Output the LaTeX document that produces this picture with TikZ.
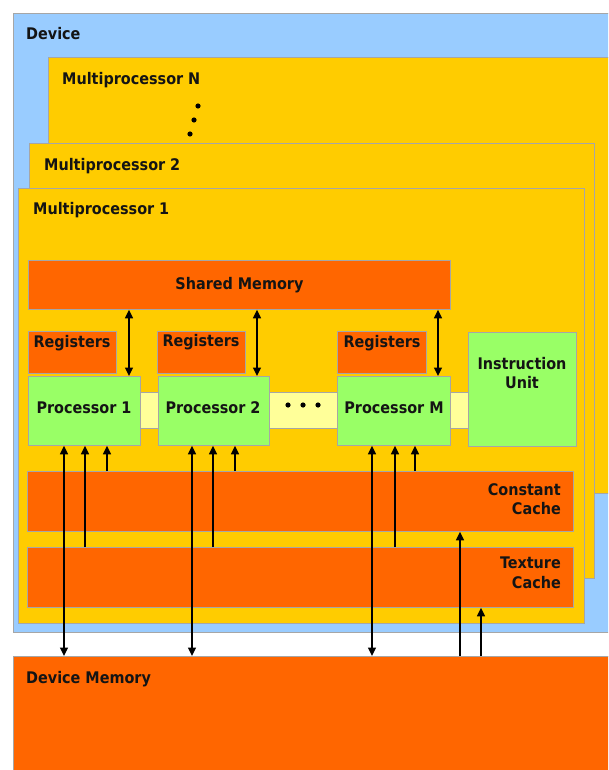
\documentclass[tikz,border=0pt]{standalone}
\usepackage{fontspec}
\setmainfont{DejaVu Sans Condensed}
\usetikzlibrary{arrows.meta}
\definecolor{devblue}{HTML}{99CCFF}
\definecolor{mpyel}{HTML}{FFCC00}
\definecolor{memor}{HTML}{FF6600}
\definecolor{procgr}{HTML}{99FF66}
\definecolor{barylw}{HTML}{FFFF99}
\definecolor{edgegray}{HTML}{A6A6A6}
\newcommand\blkat[6]{\node[blk, fill=#2, minimum width={(#5-#3)*1pt}, minimum height={(#6-#4)*1pt}] (#1) at (#3,#4) {};}
\begin{document}
\begin{tikzpicture}[x=1pt,y=-1pt,
 blk/.style={draw=edgegray, line width=0.8pt, inner sep=0pt, anchor=north west},
 lbl/.style={font=\fontsize{16}{19.5}\selectfont\bfseries, inner sep=0pt, text=black!92},
 uptip/.style={line width=1.5pt, -{Triangle[length=8.5pt,width=8pt]}},
 dbltip/.style={line width=1.5pt, {Triangle[length=8.5pt,width=8pt]}-{Triangle[length=8.5pt,width=8pt]}},
]
\useasboundingbox (0,0) rectangle (608,770);
\clip (0,0) rectangle (608,770);
% device
\blkat{device}{devblue}{13}{13}{620}{632}
\node[lbl, anchor=west] (tdev) at (26,34) {Device};
% multiprocessors
\blkat{mpN}{mpyel}{48}{57}{620}{493}
\node[lbl, anchor=west] (tmpN) at (62,80) {Multiprocessor N};
\fill (198,106) circle (2.6) (194,120) circle (2.6) (190,134) circle (2.6);
\blkat{mpB}{mpyel}{29}{143}{594}{578}
\node[lbl, anchor=west] (tmpB) at (44,166) {Multiprocessor 2};
\blkat{mpA}{mpyel}{18}{188}{584}{623}
\node[lbl, anchor=west] (tmpA) at (33,210) {Multiprocessor 1};
% shared memory
\blkat{shared}{memor}{28}{260}{450}{309}
\node[lbl] (tshared) at (shared.center) {Shared Memory};
% light bar
\blkat{bar}{barylw}{140}{392}{468}{428}
\fill (288,405) circle (2.6) (303,405) circle (2.6) (318,405) circle (2.6);
% registers
\blkat{regA}{memor}{28}{331}{116}{373}
\blkat{regB}{memor}{157}{331}{245}{373}
\blkat{regM}{memor}{337}{331}{426}{373}
\node[lbl] (tregA) at (72,343) {Registers};
\node[lbl] (tregB) at (201,342) {Registers};
\node[lbl] (tregM) at (382,343) {Registers};
% processors
\blkat{procA}{procgr}{28}{376}{140}{445}
\blkat{procB}{procgr}{158}{376}{269}{445}
\blkat{procM}{procgr}{337}{376}{450}{445}
\node[lbl] (tprocA) at (84,408) {Processor 1};
\node[lbl] (tprocB) at (213,408) {Processor 2};
\node[lbl] (tprocM) at (394,408) {Processor M};
% instruction unit
\blkat{instr}{procgr}{468}{332}{576}{446}
\node[lbl, align=center, anchor=north] (tinstr) at (522,357) {Instruction\\Unit};
% caches
\blkat{const}{memor}{27}{471}{573}{531}
\node[lbl, align=right, anchor=east] (tconst) at (561,499) {Constant\\Cache};
\blkat{tex}{memor}{27}{547}{573}{607}
\node[lbl, align=right, anchor=east] (ttex) at (561,573) {Texture\\Cache};
% device memory
\blkat{devmem}{memor}{13}{656}{620}{780}
\node[lbl, anchor=west] (tdevmem) at (26,679) {Device Memory};
% columns
\coordinate (sA) at (129,0);
\coordinate (sB) at (257,0);
\coordinate (sM) at (438,0);
\coordinate (a1) at (64,0);  \coordinate (a2) at (85,0);  \coordinate (a3) at (107,0);
\coordinate (b1) at (192,0); \coordinate (b2) at (213,0); \coordinate (b3) at (235,0);
\coordinate (m1) at (372,0); \coordinate (m2) at (395,0); \coordinate (m3) at (415,0);
\coordinate (k1) at (460,0); \coordinate (k2) at (481,0);
% shared <-> processors
\draw[dbltip] (shared.south -| sA) -- (procA.north -| sA);
\draw[dbltip] (shared.south -| sB) -- (procB.north -| sB);
\draw[dbltip] (shared.south -| sM) -- (procM.north -| sM);
% device memory <-> processors
\draw[dbltip] (devmem.north -| a1) -- (procA.south -| a1);
\draw[dbltip] (devmem.north -| b1) -- (procB.south -| b1);
\draw[dbltip] (devmem.north -| m1) -- (procM.south -| m1);
% texture cache -> processors
\draw[uptip] (tex.north -| a2) -- (procA.south -| a2);
\draw[uptip] (tex.north -| b2) -- (procB.south -| b2);
\draw[uptip] (tex.north -| m2) -- (procM.south -| m2);
% constant cache -> processors
\draw[uptip] (const.north -| a3) -- (procA.south -| a3);
\draw[uptip] (const.north -| b3) -- (procB.south -| b3);
\draw[uptip] (const.north -| m3) -- (procM.south -| m3);
% device memory -> caches
\draw[uptip] (devmem.north -| k1) -- (const.south -| k1);
\draw[uptip] (devmem.north -| k2) -- (tex.south -| k2);
\end{tikzpicture}
\end{document}
